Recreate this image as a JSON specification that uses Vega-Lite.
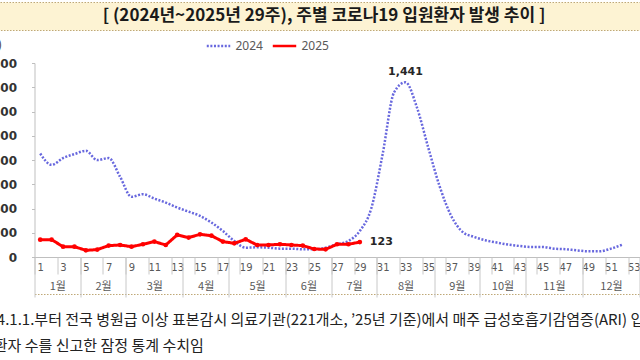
{
  "$schema": "https://vega.github.io/schema/vega-lite/v6.json",
  "autosize": {"type": "pad"},
  "padding": {"left": -35, "top": 1, "right": -65, "bottom": 0},
  "background": "white",
  "bounds": "flush",
  "center": true,
  "spacing": 33,
  "resolve": {"scale": {"color": "independent", "strokeDash": "independent"}, "legend": {"color": "independent", "strokeDash": "independent"}},
  "config": {"view": {"stroke": null}, "font": "Noto Sans CJK KR", "axis": {"grid": false}},
  "vconcat": [
    {
      "width": 740,
      "height": 28,
      "view": {"fill": "#fdf3d3", "stroke": "#bfa877", "strokeDash": [1.5, 1.5], "strokeWidth": 1},
      "data": {"values": [{"title": "[ (2024년~2025년 29주), 주별 코로나19 입원환자 발생 추이 ]"}]},
      "mark": {"type": "text", "fontSize": 17, "fontWeight": "bold", "font": "Noto Sans CJK KR", "color": "#1a1a1a", "baseline": "middle", "align": "center", "dx": -13},
      "encoding": {"text": {"field": "title"}}
    },
    {
      "width": 605,
      "height": 194,
      "resolve": {"axis": {"x": "independent", "y": "independent"}},
      "data": {"values": [
        {"week": 1, "series": "2024", "value": 854},
        {"week": 2, "series": "2024", "value": 760},
        {"week": 3, "series": "2024", "value": 816},
        {"week": 4, "series": "2024", "value": 849},
        {"week": 5, "series": "2024", "value": 876},
        {"week": 6, "series": "2024", "value": 799},
        {"week": 7, "series": "2024", "value": 816},
        {"week": 8, "series": "2024", "value": 661},
        {"week": 9, "series": "2024", "value": 496},
        {"week": 10, "series": "2024", "value": 518},
        {"week": 11, "series": "2024", "value": 482},
        {"week": 12, "series": "2024", "value": 449},
        {"week": 13, "series": "2024", "value": 408},
        {"week": 14, "series": "2024", "value": 374},
        {"week": 15, "series": "2024", "value": 339},
        {"week": 16, "series": "2024", "value": 284},
        {"week": 17, "series": "2024", "value": 215},
        {"week": 18, "series": "2024", "value": 132},
        {"week": 19, "series": "2024", "value": 77},
        {"week": 20, "series": "2024", "value": 80},
        {"week": 21, "series": "2024", "value": 77},
        {"week": 22, "series": "2024", "value": 69},
        {"week": 23, "series": "2024", "value": 69},
        {"week": 24, "series": "2024", "value": 63},
        {"week": 25, "series": "2024", "value": 63},
        {"week": 26, "series": "2024", "value": 77},
        {"week": 27, "series": "2024", "value": 105},
        {"week": 28, "series": "2024", "value": 132},
        {"week": 29, "series": "2024", "value": 215},
        {"week": 30, "series": "2024", "value": 400},
        {"week": 31, "series": "2024", "value": 849},
        {"week": 32, "series": "2024", "value": 1358},
        {"week": 33, "series": "2024", "value": 1441},
        {"week": 34, "series": "2024", "value": 1234},
        {"week": 35, "series": "2024", "value": 900},
        {"week": 36, "series": "2024", "value": 580},
        {"week": 37, "series": "2024", "value": 340},
        {"week": 38, "series": "2024", "value": 207},
        {"week": 39, "series": "2024", "value": 166},
        {"week": 40, "series": "2024", "value": 138},
        {"week": 41, "series": "2024", "value": 119},
        {"week": 42, "series": "2024", "value": 102},
        {"week": 43, "series": "2024", "value": 91},
        {"week": 44, "series": "2024", "value": 83},
        {"week": 45, "series": "2024", "value": 83},
        {"week": 46, "series": "2024", "value": 69},
        {"week": 47, "series": "2024", "value": 64},
        {"week": 48, "series": "2024", "value": 55},
        {"week": 49, "series": "2024", "value": 47},
        {"week": 50, "series": "2024", "value": 47},
        {"week": 51, "series": "2024", "value": 69},
        {"week": 52, "series": "2024", "value": 102},
        {"week": 1, "series": "2025", "value": 143},
        {"week": 2, "series": "2025", "value": 143},
        {"week": 3, "series": "2025", "value": 85},
        {"week": 4, "series": "2025", "value": 85},
        {"week": 5, "series": "2025", "value": 55},
        {"week": 6, "series": "2025", "value": 61},
        {"week": 7, "series": "2025", "value": 94},
        {"week": 8, "series": "2025", "value": 99},
        {"week": 9, "series": "2025", "value": 85},
        {"week": 10, "series": "2025", "value": 105},
        {"week": 11, "series": "2025", "value": 127},
        {"week": 12, "series": "2025", "value": 99},
        {"week": 13, "series": "2025", "value": 182},
        {"week": 14, "series": "2025", "value": 160},
        {"week": 15, "series": "2025", "value": 187},
        {"week": 16, "series": "2025", "value": 176},
        {"week": 17, "series": "2025", "value": 127},
        {"week": 18, "series": "2025", "value": 113},
        {"week": 19, "series": "2025", "value": 146},
        {"week": 20, "series": "2025", "value": 99},
        {"week": 21, "series": "2025", "value": 99},
        {"week": 22, "series": "2025", "value": 105},
        {"week": 23, "series": "2025", "value": 99},
        {"week": 24, "series": "2025", "value": 94},
        {"week": 25, "series": "2025", "value": 66},
        {"week": 26, "series": "2025", "value": 63},
        {"week": 27, "series": "2025", "value": 105},
        {"week": 28, "series": "2025", "value": 105},
        {"week": 29, "series": "2025", "value": 123}
      ]},
      "layer": [
        {
          "transform": [{"filter": "datum.series === '2024'"}],
          "mark": {"type": "line", "interpolate": "monotone", "strokeWidth": 2.5},
          "encoding": {
            "x": {"field": "week", "type": "quantitative",
              "scale": {"domain": [0.5, 53.5], "nice": false, "zero": false},
              "axis": {"orient": "bottom", "values": [1,3,5,7,9,11,13,15,17,19,21,23,25,27,29,31,33,35,37,39,41,43,45,47,49,51,53],
                "format": "d", "ticks": false, "domain": true, "domainColor": "#bfbfbf",
                "labelFont": "DejaVu Sans", "labelFontSize": 10, "labelColor": "#595959", "labelPadding": 5,
                "labelOverlap": false, "labelFlush": false, "labelBound": false, "title": null}},
            "y": {"field": "value", "type": "quantitative",
              "scale": {"domain": [0, 1600], "nice": false},
              "axis": {"orient": "left", "values": [0,200,400,600,800,1000,1200,1400,1600],
                "labelExpr": "format(datum.value, ',')", "labelOverlap": false,
                "title": "(명)", "titleAngle": 0, "titleAlign": "right", "titleBaseline": "middle",
                "titleX": -33, "titleY": -19, "titleFontSize": 12, "titleFontWeight": "normal", "titleColor": "#333333",
                "titleFont": "Noto Sans CJK KR",
                "labelFont": "DejaVu Sans", "labelFontSize": 12, "labelFontWeight": "bold", "labelColor": "#333333",
                "labelPadding": 15, "tickSize": 3, "tickColor": "#bfbfbf", "domainColor": "#bfbfbf"}},
            "color": {"field": "series", "type": "nominal",
              "scale": {"domain": ["2024", "2025"], "range": ["#6868de", "#ff0000"]},
              "legend": {"orient": "none", "direction": "horizontal", "legendX": 171, "legendY": -30, "title": null,
                "symbolType": "stroke", "symbolSize": 550, "symbolStrokeWidth": 2.5,
                "labelFont": "Noto Sans", "labelFontSize": 12, "labelColor": "#595959", "columnPadding": 4, "labelOffset": 4}},
            "strokeDash": {"field": "series", "type": "nominal",
              "scale": {"domain": ["2024", "2025"], "range": [[2, 1.6], [1, 0]]},
              "legend": {"orient": "none", "direction": "horizontal", "legendX": 171, "legendY": -30, "title": null,
                "symbolType": "stroke", "symbolSize": 550, "symbolStrokeWidth": 2.5,
                "labelFont": "Noto Sans", "labelFontSize": 12, "labelColor": "#595959", "columnPadding": 4, "labelOffset": 4}}
          }
        },
        {
          "transform": [{"filter": "datum.series === '2025'"}],
          "mark": {"type": "line", "strokeWidth": 3},
          "encoding": {
            "x": {"field": "week", "type": "quantitative",
              "axis": {"orient": "bottom", "offset": 37, "values": [1], "labels": false, "ticks": false,
                "domain": true, "domainDash": [1.5, 1.5], "domainColor": "#bfa877", "title": null}},
            "y": {"field": "value", "type": "quantitative", "axis": null},
            "color": {"field": "series", "type": "nominal"},
            "strokeDash": {"field": "series", "type": "nominal"}
          }
        },
        {
          "transform": [{"filter": "datum.series === '2025'"}],
          "mark": {"type": "circle", "color": "#ff0000", "size": 22, "opacity": 1},
          "encoding": {
            "x": {"field": "week", "type": "quantitative",
              "axis": {"orient": "bottom", "values": [0.5,4.5,8.5,13.5,17.5,22.5,26.5,30.5,35.5,39.5,43.5,48.5,53.5],
                "labels": false, "domain": false, "ticks": true, "tickSize": 40, "tickColor": "#c8c8c8", "title": null}},
            "y": {"field": "value", "type": "quantitative", "axis": null}
          }
        },
        {
          "data": {"values": [{"week": 33, "value": 1441, "label": "1,441"}]},
          "mark": {"type": "text", "font": "DejaVu Sans", "fontSize": 11, "fontWeight": "bold", "color": "#262626", "baseline": "middle", "dy": -10},
          "encoding": {
            "x": {"field": "week", "type": "quantitative",
              "axis": {"orient": "bottom", "values": [0.5,2.5,4.5,6.5,8.5,10.5,12.5,14.5,16.5,18.5,20.5,22.5,24.5,26.5,28.5,30.5,32.5,34.5,36.5,38.5,40.5,42.5,44.5,46.5,48.5,50.5,52.5],
                "labels": false, "domain": false, "ticks": true, "tickSize": 17, "tickColor": "#c8c8c8",
                "title": "※ ’24.1.1.부터 전국 병원급 이상 표본감시 의료기관(221개소, ’25년 기준)에서 매주 급성호흡기감염증(ARI) 입원",
                "titleAnchor": "start", "titleAlign": "left", "titleBaseline": "middle", "titleX": -69, "titleY": 62,
                "titleFont": "Noto Sans CJK KR", "titleFontSize": 15, "titleFontWeight": "normal", "titleColor": "#222222"}},
            "y": {"field": "value", "type": "quantitative", "axis": null},
            "text": {"field": "label"}
          }
        },
        {
          "data": {"values": [{"week": 29, "value": 123, "label": "123"}]},
          "mark": {"type": "text", "font": "DejaVu Sans", "fontSize": 11, "fontWeight": "bold", "color": "#262626", "baseline": "middle", "align": "left", "dx": 10},
          "encoding": {
            "x": {"field": "week", "type": "quantitative",
              "axis": {"orient": "bottom", "values": [2.5,6.5,11,15.5,20,24.5,28.5,33,37.5,41.5,46,51],
                "labelExpr": "['1월','2월','3월','4월','5월','6월','7월','8월','9월','10월','11월','12월'][indexof([2.5,6.5,11,15.5,20,24.5,28.5,33,37.5,41.5,46,51], datum.value)]",
                "ticks": false, "domain": false,
                "labelPadding": 23, "labelFont": "Noto Sans CJK KR", "labelFontSize": 11, "labelColor": "#595959",
                "labelOverlap": false, "labelFlush": false, "labelBound": false,
                "title": "원환자 수를 신고한 잠정 통계 수치임",
                "titleAnchor": "start", "titleAlign": "left", "titleBaseline": "middle", "titleX": -55, "titleY": 88,
                "titleFont": "Noto Sans CJK KR", "titleFontSize": 15, "titleFontWeight": "normal", "titleColor": "#222222"}},
            "y": {"field": "value", "type": "quantitative", "axis": null},
            "text": {"field": "label"}
          }
        }
      ]
    }
  ]
}
